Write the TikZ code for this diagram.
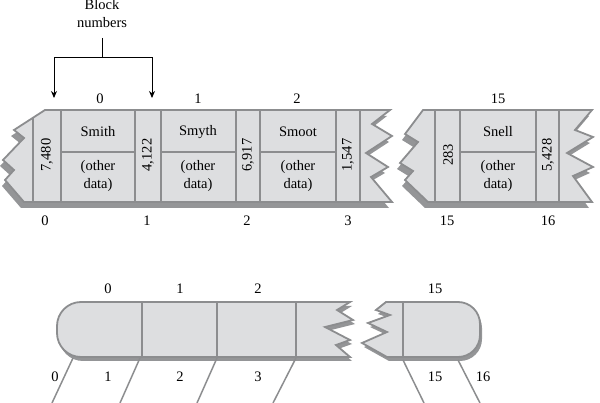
\documentclass[tikz,border=0pt]{standalone}
\usepackage{fontspec}
\setmainfont{Liberation Serif}
\usepackage{tikz}
\usetikzlibrary{positioning,arrows.meta}

\definecolor{cellfill}{HTML}{DDDEE0}
\definecolor{cellline}{HTML}{8C8D8F}
\definecolor{shadowgray}{HTML}{949597}

\tikzset{
  every node/.style={font=\fontsize{14.5}{18}\selectfont, inner sep=1pt},
  piece/.style={draw=cellline, line width=1.8pt, fill=cellfill, line join=miter},
  shadow/.style={fill=shadowgray},
  divider/.style={draw=cellline, line width=1.8pt},
  tick/.style={draw=cellline, line width=1.5pt},
}

% outlines of the broken strips
\newcommand{\stripLeft}{(45,110) -- (390,110) -- (372,124) -- (392,136) -- (366,153) -- (388,167) -- (371,177) -- (392,202) -- (24,202) -- (5,180) -- (14,170) -- (3,160) -- (24,138) -- (14,130) -- cycle}
\newcommand{\stripRight}{(423,110) -- (592,110) -- (575,130) -- (593,137) -- (567,153) -- (593,167) -- (573,176) -- (592,202) -- (428,202) -- (405,180) -- (413,171) -- (400,163) -- (418,142) -- (405,134) -- cycle}
\newcommand{\barLeft}{(200,302) -- (350,302) -- (337,310) -- (353,320) -- (325,327) -- (350,340) -- (336,345) -- (350,357) -- (200,357) [rounded corners=24] -- (57,357) -- (57,302) -- cycle}
\newcommand{\barRight}{(430,302) -- (386,302) -- (376,310) -- (390,315) -- (368,323) -- (387,332) -- (362,343) -- (387,357) [rounded corners=22] -- (480,357) -- (480,302) -- cycle}

\begin{document}
\begin{tikzpicture}[x=1pt,y=-1pt]
\useasboundingbox (0,0) rectangle (600,403);

% upper: records in blocks
\fill[shadow, shift={(-3,6)}] \stripLeft;
\fill[shadow, shift={(-3,6)}] \stripRight;
\path[piece] \stripLeft;
\path[piece] \stripRight;
\draw[divider] (33,118) -- (33,202);
\foreach \x in {61,135,161,236,260,336,360,435,460,536,559}
  \draw[divider] (\x,110) -- (\x,202);
\foreach \a/\b in {61/135,161/236,260/336,460/536}
  \draw[divider] (\a,152) -- (\b,152);

\foreach \x/\name in {98/Smith,198/Smyth,298/Smoot,498/Snell} {
  \node (name-\x) at (\x,132) {\name};
  \node[align=center] (data-\x) at (\x,176) {(other\\data)};
}
\foreach \x/\key in {47/{7,480},148/{4,122},248/{6,917},348/{1,547},448/{283},548/{5,428}}
  \node[rotate=90] (key-\x) at (\x,155) {\key};

\foreach \x/\n in {100/0,198/1,297/2,498/15}
  \node (top-\n) at (\x,99) {\n};
\foreach \x/\n in {45/0,147/1,247/2,348/3,447/15,548/16}
  \node (bot-\n) at (\x,221) {\n};

% block number pointer
\node[align=center, inner sep=0pt] (blocknum) at (102,14) {Block\\numbers};
\coordinate (stem) at (102,38);
\coordinate (fork) at (102,58);
\coordinate (tipA) at (54,98);
\coordinate (tipB) at (152,98);
\draw[line width=1pt] (stem) -- (fork);
\draw[line width=1pt, -{Stealth[length=7pt,width=6pt]}] (fork) -| (tipA);
\draw[line width=1pt, -{Stealth[length=7pt,width=6pt]}] (fork) -| (tipB);

% lower: blocks with boundaries
\fill[shadow, shift={(2,4)}] \barLeft;
\fill[shadow, shift={(2,4)}] \barRight;
\path[piece] \barLeft;
\path[piece] \barRight;
\foreach \x in {142,217,296,403}
  \draw[divider] (\x,302) -- (\x,357);

\foreach \x/\n in {108/0,180/1,258/2,435/15}
  \node (ltop-\n) at (\x,289) {\n};
\foreach \x/\n in {55/0,108/1,180/2,258/3,435/15,483/16}
  \node (lbot-\n) at (\x,377) {\n};

\foreach \i/\xa/\xb in {0/73/52,1/140/120,2/217/197,3/296/273} {
  \coordinate (up-\i) at (\xa,358);
  \coordinate (dn-\i) at (\xb,403);
  \draw[tick] (up-\i) -- (dn-\i);
}
\foreach \i/\xa/\xb in {15/403/424,16/458/480} {
  \coordinate (up-\i) at (\xa,360);
  \coordinate (dn-\i) at (\xb,403);
  \draw[tick] (up-\i) -- (dn-\i);
}
\end{tikzpicture}
\end{document}
